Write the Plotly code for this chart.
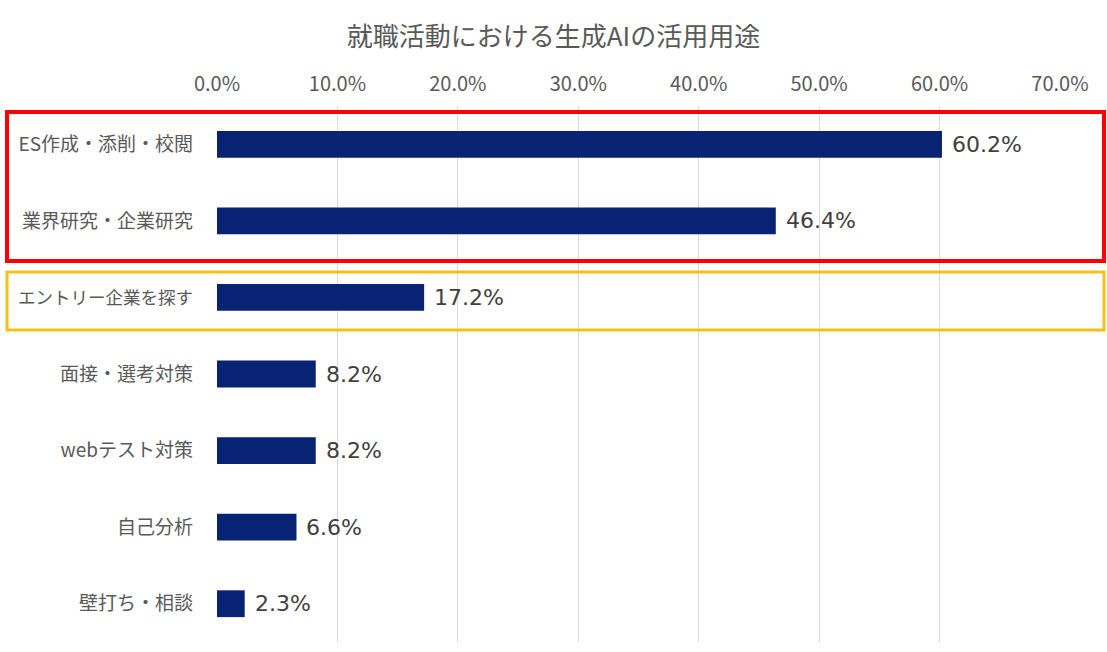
import plotly.graph_objects as go

categories = ["ES作成・添削・校閲", "業界研究・企業研究", "エントリー企業を探す",
              "面接・選考対策", "webテスト対策", "自己分析", "壁打ち・相談"]
values = [0.602, 0.464, 0.172, 0.082, 0.082, 0.066, 0.023]
tick_vals = [0, 0.1, 0.2, 0.3, 0.4, 0.5, 0.6, 0.7]
tick_text = ["0.0%", "10.0%", "20.0%", "30.0%", "40.0%", "50.0%", "60.0%", "70.0%"]
title_text = "就職活動における生成AIの活用用途"

FONT = "Noto Sans CJK JP"
W, H = 1107, 652
L, R, T, B = 217, 47, 106, 10

fig = go.Figure()
fig.add_trace(go.Bar(
    x=values, y=categories, orientation="h",
    marker=dict(color="#082374", line=dict(width=0)),
    hoverinfo="skip",
))

for v, c in zip(values, categories):
    fig.add_annotation(x=v, y=c, xref="x", yref="y", text=f"{v*100:.1f}%",
                       showarrow=False, xanchor="left", yanchor="middle",
                       xshift=8, font=dict(family="DejaVu Sans", size=22, color="#404040"))


def est_width(s):
    return sum(1.0 if ord(ch) > 255 else 0.55 for ch in s)


# very long (all full-width) label slightly condensed to mimic the narrow-kana font
cat_ticktext = [c if est_width(c) < 9.8 else f'<span style="font-size:17.5px">{c}</span>'
                for c in categories]

pw = W - L - R
ph = H - T - B


def px_x(p):
    return (p - L) / pw


def px_y(p):
    return (H - B - p) / ph


fig.add_shape(type="rect", xref="paper", yref="paper",
              x0=px_x(7), x1=px_x(1104), y0=px_y(261), y1=px_y(112),
              line=dict(color="#ff0000", width=4), fillcolor="rgba(0,0,0,0)")
fig.add_shape(type="rect", xref="paper", yref="paper",
              x0=px_x(7), x1=px_x(1104), y0=px_y(330), y1=px_y(272),
              line=dict(color="#f5c01a", width=3), fillcolor="rgba(0,0,0,0)")

fig.update_layout(
    width=W, height=H,
    margin=dict(l=L, r=R, t=T, b=B),
    paper_bgcolor="white", plot_bgcolor="white",
    showlegend=False,
    bargap=0.65,
    title=dict(text=title_text, x=0.5, xref="container", xanchor="center",
               y=1 - 37 / H, yref="container", yanchor="middle",
               font=dict(family=FONT, size=26, color="#595959")),
    xaxis=dict(range=[0, 0.7], side="top", tickvals=tick_vals, ticktext=tick_text,
               showgrid=True, gridcolor="#d9d9d9", gridwidth=1, zeroline=False,
               showline=False, ticks="", ticklabelstandoff=10, automargin=False,
               tickfont=dict(family=FONT, size=20, color="#595959"), fixedrange=True),
    yaxis=dict(autorange="reversed", showgrid=False, zeroline=False, showline=False,
               ticks="", ticklabelstandoff=23, automargin=False,
               tickmode="array", tickvals=categories, ticktext=cat_ticktext,
               tickfont=dict(family=FONT, size=19, color="#595959"), fixedrange=True),
)

fig.write_html("out.html")
